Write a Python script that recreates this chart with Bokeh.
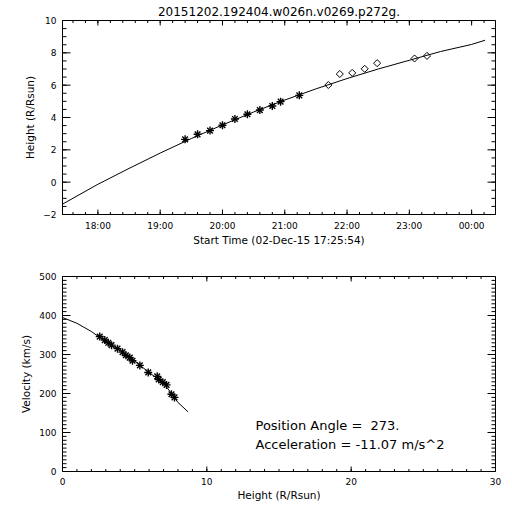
from bokeh.plotting import figure
from bokeh.models import Range1d, FixedTicker, Label
from bokeh.layouts import column
from bokeh.embed import file_html
from bokeh.resources import INLINE
import math

# ---------------- data ----------------
TITLE = "20151202.192404.w026n.v0269.p272g."
START_TIME = "17:25:54"
END_TIME = "00:23:00"
X_TITLE_TOP = "Start Time (02-Dec-15 17:25:54)"
Y_TITLE_TOP = "Height (R/Rsun)"
X_TITLE_BOT = "Height (R/Rsun)"
Y_TITLE_BOT = "Velocity (km/s)"

hour_ticks = ["18:00", "19:00", "20:00", "21:00", "22:00", "23:00", "00:00"]

star_times = ["19:24", "19:36", "19:48", "20:00", "20:12", "20:24", "20:36", "20:48", "20:56", "21:14"]
star_heights = [2.65, 2.96, 3.19, 3.52, 3.91, 4.20, 4.46, 4.71, 4.98, 5.37]

diamond_times = ["21:42", "21:53", "22:05", "22:17", "22:29", "23:05", "23:17"]
diamond_heights = [6.01, 6.69, 6.76, 7.01, 7.36, 7.65, 7.81]

fit_times = ["17:25:54", "18:00", "18:30", "19:00", "19:30", "20:00", "20:30", "21:00",
             "21:30", "22:00", "22:30", "23:00", "23:30", "00:00", "00:13"]
fit_heights = [-1.36, -0.13, 0.85, 1.80, 2.70, 3.54, 4.34, 5.08, 5.77, 6.41, 7.00, 7.54, 8.08, 8.52, 8.78]

vel_heights = [2.58, 2.93, 3.17, 3.40, 3.81, 4.16, 4.39, 4.66, 4.85, 5.36, 5.94, 6.56, 6.67, 6.95, 7.21, 7.55, 7.76]
vel_values = [346, 337, 330, 324, 315, 306, 298, 292, 284, 272, 254, 244, 236, 229, 222, 198, 190]

vfit_heights = [0, 1, 2, 3, 4, 5, 6, 7, 7.5, 8, 8.7]
vfit_values = [395, 380, 359, 333, 310, 283, 254, 226, 203, 177, 153]

position_angle_text = "Position Angle = \u00a0273."
acceleration_text = "Acceleration = -11.07 m/s^2"

FONT = "DejaVu Sans"
W = 505
ML, MR = 62, 10


def hours(s):
    parts = [int(v) for v in s.split(":")]
    h = parts[0] + parts[1] / 60 + (parts[2] / 3600 if len(parts) > 2 else 0)
    if h < 12:
        h += 24
    return h


def style_axis(ax, label_standoff):
    ax.major_tick_in = 0
    ax.major_tick_out = 0
    ax.minor_tick_in = 0
    ax.minor_tick_out = 0
    ax.axis_line_color = "black"
    ax.major_label_text_font = FONT
    ax.major_label_text_font_size = "9px"
    ax.major_label_text_color = "black"
    ax.major_label_standoff = 6
    ax.axis_label_text_font = FONT
    ax.axis_label_text_font_style = "normal"
    ax.axis_label_text_font_size = "10.5px"
    ax.axis_label_text_color = "black"
    ax.axis_label_standoff = label_standoff


def inward_ticks(p, xr, yr, fw, fh, xs_major, xs_minor, ys_major, ys_minor, xlen=5, ylen=8):
    """IDL-style inward ticks on all four sides of the frame (pixel lengths -> data units)."""
    dxp = (xr[1] - xr[0]) / fw
    dyp = (yr[1] - yr[0]) / fh
    kw = dict(line_color="black", line_width=1)
    for xs, ln in ((xs_major, xlen), (xs_minor, xlen / 2)):
        n = len(xs)
        p.segment(x0=xs, y0=[yr[0]] * n, x1=xs, y1=[yr[0] + ln * dyp] * n, **kw)
        p.segment(x0=xs, y0=[yr[1]] * n, x1=xs, y1=[yr[1] - ln * dyp] * n, **kw)
    for ys, ln in ((ys_major, ylen), (ys_minor, ylen / 2)):
        n = len(ys)
        p.segment(x0=[xr[0]] * n, y0=ys, x1=[xr[0] + ln * dxp] * n, y1=ys, **kw)
        p.segment(x0=[xr[1]] * n, y0=ys, x1=[xr[1] - ln * dxp] * n, y1=ys, **kw)


# ---------------- top panel ----------------
x0, x1 = hours(START_TIME), hours(END_TIME)
tick_vals = [hours(t) for t in hour_ticks]
minor_x = [v for v in [18 + k * 0.2 for k in range(-3, 33)] if x0 <= v <= x1]
y_major1 = list(range(-2, 11, 2))
y_minor1 = [-2 + 0.5 * k for k in range(25)]

H1, MT1, MB1 = 252, 20, 38
p1 = figure(width=W, height=H1, x_range=Range1d(x0, x1), y_range=Range1d(-2, 10),
            output_backend="svg", toolbar_location=None,
            min_border_left=ML, min_border_right=MR, min_border_top=MT1, min_border_bottom=MB1)
p1.xgrid.visible = False
p1.ygrid.visible = False
p1.outline_line_color = "black"
p1.title.text = TITLE
p1.title.align = "center"
p1.title.text_font = FONT
p1.title.text_font_size = "12px"
p1.title.text_font_style = "normal"
p1.title.text_color = "black"
p1.title.standoff = 4
p1.xaxis.ticker = FixedTicker(ticks=tick_vals)
p1.xaxis.major_label_overrides = {v: t for v, t in zip(tick_vals, hour_ticks)}
p1.yaxis.ticker = FixedTicker(ticks=y_major1)
p1.xaxis.axis_label = X_TITLE_TOP
p1.yaxis.axis_label = Y_TITLE_TOP
style_axis(p1.xaxis[0], 0)
style_axis(p1.yaxis[0], 4)

inward_ticks(p1, (x0, x1), (-2, 10), W - ML - MR, H1 - MT1 - MB1,
             tick_vals, minor_x, y_major1, y_minor1)

p1.line([hours(t) for t in fit_times], fit_heights, line_color="black", line_width=1)
st = [hours(t) for t in star_times]
p1.scatter(st, star_heights, marker="x", size=8, line_color="black", line_width=1.4)
p1.scatter(st, star_heights, marker="cross", size=8, line_color="black", line_width=1.4)
p1.scatter([hours(t) for t in diamond_times], diamond_heights, marker="square", angle=math.pi / 4,
           size=5, fill_color=None, line_color="black", line_width=1)

# ---------------- bottom panel ----------------
x_major2 = [0, 10, 20, 30]
x_minor2 = list(range(0, 31))
y_major2 = list(range(0, 501, 100))
y_minor2 = list(range(0, 501, 10))

H2, MT2, MB2 = 258, 24, 39
p2 = figure(width=W, height=H2, x_range=Range1d(0, 30), y_range=Range1d(0, 500),
            output_backend="svg", toolbar_location=None,
            min_border_left=ML, min_border_right=MR, min_border_top=MT2, min_border_bottom=MB2)
p2.xgrid.visible = False
p2.ygrid.visible = False
p2.outline_line_color = "black"
p2.xaxis.ticker = FixedTicker(ticks=x_major2)
p2.yaxis.ticker = FixedTicker(ticks=y_major2)
p2.xaxis.axis_label = X_TITLE_BOT
p2.yaxis.axis_label = Y_TITLE_BOT
style_axis(p2.xaxis[0], 1)
style_axis(p2.yaxis[0], 4)

inward_ticks(p2, (0, 30), (0, 500), W - ML - MR, H2 - MT2 - MB2,
             x_major2, x_minor2, y_major2, y_minor2)

p2.line(vfit_heights, vfit_values, line_color="black", line_width=1)
p2.scatter(vel_heights, vel_values, marker="x", size=8, line_color="black", line_width=1.4)
p2.scatter(vel_heights, vel_values, marker="cross", size=8, line_color="black", line_width=1.4)

p2.add_layout(Label(x=193, y=46, x_units="screen", y_units="screen", text=position_angle_text,
                    text_align="left", text_baseline="middle", text_font=FONT,
                    text_font_size="13px", text_color="black"))
p2.add_layout(Label(x=193, y=27, x_units="screen", y_units="screen", text=acceleration_text,
                    text_align="left", text_baseline="middle", text_font=FONT,
                    text_font_size="13px", text_color="black"))

layout = column(p1, p2, spacing=0)
open("out.html", "w").write(file_html(layout, INLINE))
